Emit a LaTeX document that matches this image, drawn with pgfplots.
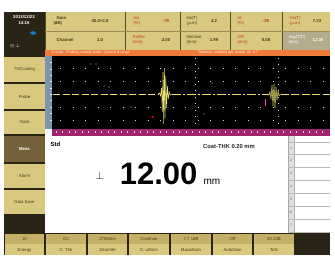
\documentclass[border=0pt]{standalone}
\usepackage{pgfplots}
\pgfplotsset{compat=1.18}
\usepackage{fontspec}
\setmainfont{Liberation Sans}
\definecolor{khaki}{HTML}{D8C97E}
\definecolor{khakid}{HTML}{C4B066}
\definecolor{brd}{HTML}{5A4A22}
\definecolor{darkbg}{HTML}{2A2416}
\definecolor{txt}{HTML}{4A3A14}
\definecolor{redt}{HTML}{C8381E}
\definecolor{orangebar}{HTML}{EE7A3C}
\definecolor{pinkr}{HTML}{A0246C}
\definecolor{bluestrip}{HTML}{7C94AC}
\definecolor{meas}{HTML}{76623A}
\definecolor{wave}{HTML}{E8E070}
\definecolor{graycell}{HTML}{B4AC8C}
\newcommand{\R}[5]{\fill[#5] (#1,#2) rectangle (#3,#4);}
\newcommand{\ft}{\fontsize{4.3}{4.8}\selectfont}
\newcommand{\BB}[2]{\fill[khakid] (#1+0.6,233.6) rectangle (#2-0.6,244);\fill[khaki] (#1+0.6,244) rectangle (#2-0.6,255);}
\begin{document}
\begin{tikzpicture}
\begin{axis}[scale only axis, width=335pt, height=255pt, xmin=0, xmax=335, ymin=0, ymax=255, y dir=reverse, hide axis, clip=false]
\R{0}{0}{335}{255}{white}
% left dark column top
\R{4}{12}{45}{56}{darkbg}
\node[font=\ft\bfseries, text=white] at (24,17) {2013/12/23};
\node[font=\ft\bfseries, text=white] at (24,23) {14:16};
\fill[cyan!60!blue] (33,33) ellipse (3 and 1.8);
\node[font=\ft\bfseries, text=white, anchor=west] at (6,46) {$\equiv\perp$};
% header cells
\R{45}{12}{330}{50}{khaki}
\R{282}{31}{330}{50}{graycell}
\draw[brd, line width=0.8pt] (45,12) -- (45,50);
\pgfplotsinvokeforeach{125,180,230,282}{\draw[brd, line width=0.8pt] (#1,12) -- (#1,50);}
\draw[khakid!80!black, line width=0.6pt] (45,31) -- (330,31);
% row 1
\node[font=\ft\bfseries, text=txt, align=left, anchor=west] at (50,21) {\ \ \,Gain\\(dB)};
\node[font=\ft\bfseries, text=txt] at (100,21) {40.0+3.0};
\node[font=\ft, text=redt, align=left, anchor=west] at (130,21) {Ha\\(\%)};
\node[font=\ft\bfseries, text=redt] at (166,21) {-79};
\node[font=\ft, text=txt, align=left, anchor=west] at (183,21) {Ha(T)\\($\mu$m)};
\node[font=\ft\bfseries, text=txt] at (214,21) {4.2};
\node[font=\ft, text=redt, align=left, anchor=west] at (234,21) {Hi\\(\%)};
\node[font=\ft\bfseries, text=redt] at (266,21) {-39};
\node[font=\ft, text=redt, align=left, anchor=west] at (286,21) {Ha(T)\\($\mu$m)};
\node[font=\ft\bfseries, text=txt] at (317,21) {7.33};
% row 2
\node[font=\ft\bfseries, text=txt, anchor=west] at (53,40) {Channel};
\node[font=\ft\bfseries, text=txt] at (100,40) {1.0};
\node[font=\ft, text=redt, align=left, anchor=west] at (129,40) {Ra/Ra'\\(mm)};
\node[font=\ft\bfseries, text=txt] at (166,40) {2.00};
\node[font=\ft, text=txt, align=left, anchor=west] at (183,40) {Min/ave\\(mm)};
\node[font=\ft\bfseries, text=txt] at (214,40) {1.99};
\node[font=\ft, text=redt, align=left, anchor=west] at (234,40) {Diff\\(mm)};
\node[font=\ft\bfseries, text=txt] at (266,40) {0.00};
\node[font=\ft, text=white, align=left, anchor=west] at (285,40) {Avg(T/C)\\(mm)};
\node[font=\ft\bfseries, text=white] at (318,40) {12.00};
% orange bar
\R{45}{50}{330}{56}{orangebar}
\node[font=\fontsize{3.6}{4}\selectfont, text=white, anchor=west] at (48,53) {A-Scan:\ \ Probing coating mode\ \ \ Scan in a range};
\node[font=\fontsize{3.6}{4}\selectfont, text=white, anchor=west] at (195,53) {Remove\ \ coupling gel\ \ tested\ \ ok\ \ n ?};
% waveform area
\R{52}{56}{330}{129}{black}
\R{45}{56}{52}{129}{bluestrip}
\pgfplotsinvokeforeach{62,69,75,81,88,94,100,107,113,120}{\draw[white!85!bluestrip, line width=0.3pt] (49.5,#1) -- (52,#1);}
\pgfplotsinvokeforeach{68,81,107,120}{\draw[gray!35, line width=0.4pt, dash pattern=on 0.5pt off 12pt] (60,#1) -- (330,#1);}
\pgfplotsinvokeforeach{195,278}{\draw[gray!30, line width=0.4pt, dash pattern=on 0.5pt off 6pt] (#1,58) -- (#1,127);}
% left buttons
\R{4}{56}{45}{233}{darkbg}
\R{4}{57}{45}{82}{khaki}
\R{4}{84}{45}{109}{khaki}
\R{4}{111}{45}{134}{khaki}
\R{4}{136}{45}{162}{meas}
\R{4}{164}{45}{188}{khaki}
\R{4}{190}{45}{214}{khaki}
\node[font=\ft, text=txt] at (24.5,69.5) {Th/Coating};
\node[font=\ft, text=txt] at (24.5,96.5) {Probe};
\node[font=\ft, text=txt] at (24.5,122.5) {Gate};
\node[font=\ft\bfseries, text=white] at (24.5,149) {Meas};
\node[font=\ft, text=txt] at (24.5,176) {Alarm};
\node[font=\ft, text=txt] at (24.5,202) {Data Save};
% waveform traces
\addplot[wave, line width=0.5pt, dash pattern=on 7pt off 2.5pt] coordinates {(53,94) (158,94)};
\addplot[wave, line width=0.5pt] coordinates {(158,94) (159.5,93) (160.5,96) (161.5,88) (162.3,112) (163,72) (163.7,124) (164.4,68) (165.1,118) (165.8,76) (166.6,108) (167.4,86) (168.3,99) (169.2,92) (170.2,95) (171.5,94)};
\addplot[wave, line width=0.5pt, dash pattern=on 9pt off 2pt on 2pt off 2pt] coordinates {(171.5,94) (268,94)};
\addplot[wave, line width=0.5pt] coordinates {(268,94) (269,95) (270,92) (271,99) (272,85) (273,106) (274,84) (275,108) (276,87) (277,100) (278,91) (279,96) (280.5,94)};
\addplot[wave, line width=0.5pt, dash pattern=on 8pt off 2.5pt] coordinates {(280.5,94) (330,94)};
\addplot[magenta!70!white, line width=0.7pt] coordinates {(265.5,99) (265.5,106)};
\addplot[only marks, mark=square*, mark size=0.6pt, red!80!black] coordinates {(153,117)};
\addplot[only marks, mark=*, mark size=0.4pt, wave!70!black] coordinates {(91,64) (96,64) (104,86) (109,87) (131,107) (204,114) (212,83)};
% pink ruler
\R{52}{129}{330}{136}{pinkr}
\pgfplotsinvokeforeach{56,62.5,69,75.5,82,88.5,95,101.5,108,114.5,121,127.5,134,140.5,147,153.5,160,166.5,173,179.5,186,192.5,199,205.5,212,218.5,225,231.5,238,244.5,251,257.5,264,270.5,277,283.5,290,296.5,303,309.5,316,322.5}{\draw[white!80!pinkr, line width=0.35pt] (#1,131) -- (#1,133);}
% measurement area
\R{45}{136}{288}{233}{white}
\node[font=\fontsize{6}{7}\selectfont\bfseries, anchor=west] at (47,144) {Std};
\node[font=\fontsize{5.8}{7}\selectfont\bfseries, text=black!85] at (229,147) {Coat-THK 0.20 mm};
\node[font=\fontsize{11}{12}\selectfont, anchor=base] at (100,180) {$\perp$};
\node[font=\fontsize{31}{32}\selectfont\bfseries, anchor=base east] at (201,185) {12.00};
\node[font=\fontsize{10}{11}\selectfont, anchor=base west] at (200,185) {mm};
% right table
\R{288}{136}{330}{233}{white}
\R{288}{136}{294}{233}{gray!25}
\draw[gray!70, line width=0.6pt] (288,136) -- (288,233);
\draw[gray!60, line width=0.4pt] (294,136) -- (294,233);
\pgfplotsinvokeforeach{142,154,167,180,193,206,219,232}{\draw[gray!55, line width=0.5pt] (288,#1) -- (330,#1);}
\node[font=\fontsize{3.5}{4}\selectfont, text=black!70] at (291,148) {1};
\node[font=\fontsize{3.5}{4}\selectfont, text=black!70] at (291,160) {2};
\node[font=\fontsize{3.5}{4}\selectfont, text=black!70] at (291,173) {3};
\node[font=\fontsize{3.5}{4}\selectfont, text=black!70] at (291,186) {4};
\node[font=\fontsize{3.5}{4}\selectfont, text=black!70] at (291,199) {5};
\node[font=\fontsize{3.5}{4}\selectfont, text=black!70] at (291,212) {6};
\node[font=\fontsize{3.5}{4}\selectfont, text=black!70] at (291,225) {7};
% bottom buttons
\R{4}{233}{330}{255}{darkbg}
\BB{4}{45}\BB{45}{87}\BB{87}{128}\BB{128}{170}\BB{170}{212}\BB{212}{253}\BB{253}{295}
\node[font=\ft, text=txt] at (24.5,239) {10};
\node[font=\ft, text=txt] at (66,239) {On};
\node[font=\ft, text=txt] at (107.5,239) {2700m/s};
\node[font=\ft, text=txt] at (149,239) {Continue};
\node[font=\ft, text=txt] at (191,239) {7.7 1dB};
\node[font=\ft, text=txt] at (232.5,239) {Off};
\node[font=\ft, text=txt] at (274,239) {40.1dB};
\node[font=\ft, text=txt] at (24.5,250) {Energy};
\node[font=\ft, text=txt] at (66,250) {C. Thk};
\node[font=\ft, text=txt] at (107.5,250) {Zero/Vel};
\node[font=\ft, text=txt] at (149,250) {C. utSrch};
\node[font=\ft, text=txt] at (191,250) {Max\&Gain};
\node[font=\ft, text=txt] at (232.5,250) {AutoGain};
\node[font=\ft, text=txt] at (274,250) {Tofs};
\end{axis}
\end{tikzpicture}
\end{document}
